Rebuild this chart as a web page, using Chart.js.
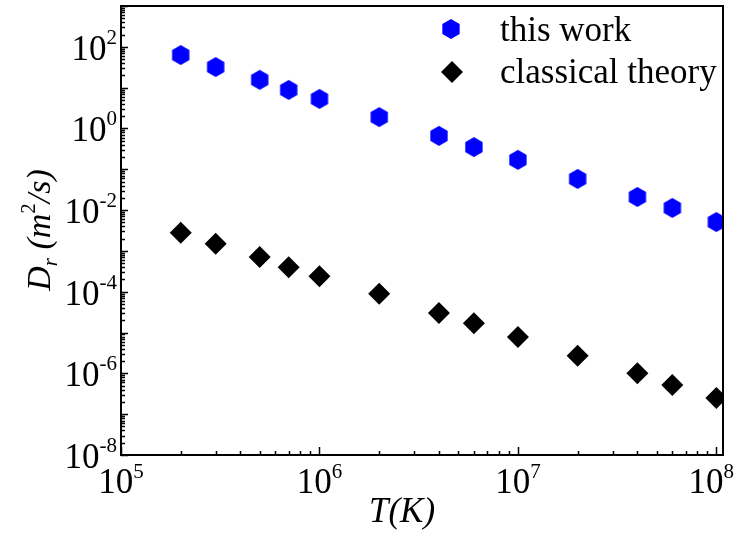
<!DOCTYPE html>
<html>
<head>
<meta charset="utf-8">
<script src="https://cdn.jsdelivr.net/npm/chart.js@4.4.1/dist/chart.umd.min.js"></script>
<style>
  body { margin: 0; background: #fff; }
  #caja { width: 739px; height: 533px; }
</style>
</head>
<body>
<div id="caja"><canvas id="grafica"></canvas></div>
<script>
// datos
var temperatura = [2e5, 3e5, 5e5, 7e5, 1e6, 2e6, 4e6, 6e6, 1e7, 2e7, 4e7, 6e7, 1e8];
var dEsteTrabajo = [63, 32, 15.5, 8.8, 5.3, 1.9, 0.66, 0.35, 0.17, 0.058, 0.021, 0.0113, 0.0051];
var dClasica = [2.8e-3, 1.5e-3, 7.1e-4, 4.0e-4, 2.4e-4, 8.9e-5, 3.0e-5, 1.7e-5, 7.8e-6, 2.7e-6, 1.0e-6, 5.2e-7, 2.5e-7];

var etiquetas = ['this work', 'classical theory'];
var expX = [5, 6, 7, 8];            // etiquetas 10^n eje x
var expY = [-8, -6, -4, -2, 0, 2];  // etiquetas 10^n eje y
var decadasX = [5, 6, 7];
var decadasY = [-8, -7, -6, -5, -4, -3, -2, -1, 0, 1, 2];

var fuente = '"Liberation Serif", "Times New Roman", serif';

function ticksLog(decadas, ultima) {
  var t = [];
  decadas.forEach(function (d) {
    for (var m = 1; m <= 9; m++) t.push({ value: Number(m + 'e' + d), major: m == 1 });
  });
  t.push({ value: Number('1e' + ultima), major: true });
  return t;
}

function hexagono(r, color) {
  var c = document.createElement('canvas');
  c.width = Math.ceil(2 * r + 2);
  c.height = c.width;
  var g = c.getContext('2d');
  var m = c.width / 2;
  g.beginPath();
  for (var k = 0; k < 6; k++) {
    var a = Math.PI / 180 * (60 * k - 90);
    if (k == 0) g.moveTo(m + r * Math.cos(a), m + r * Math.sin(a));
    else g.lineTo(m + r * Math.cos(a), m + r * Math.sin(a));
  }
  g.closePath();
  g.fillStyle = color;
  g.fill();
  return c;
}

var hexAzul = hexagono(10, '#0000ff');

function puntos(ys) {
  return temperatura.map(function (t, i) { return { x: t, y: ys[i] }; });
}

// 10 con exponente; alinea: 'center' o 'right'
function escribePotencia(ctx, n, x, yBase, ySup, alinea) {
  ctx.font = '35px ' + fuente;
  var wBase = ctx.measureText('10').width;
  ctx.font = '21px ' + fuente;
  var wSup = ctx.measureText(String(n)).width;
  var x0 = alinea == 'right' ? x - wBase - wSup : x - (wBase + wSup) / 2;
  ctx.textAlign = 'left';
  ctx.font = '35px ' + fuente;
  ctx.fillText('10', x0, yBase);
  ctx.font = '21px ' + fuente;
  ctx.fillText(String(n), x0 + wBase, ySup);
}

// marco, ticks hacia adentro, etiquetas, titulos y leyenda
var extras = {
  id: 'extras',
  afterDraw: function (chart) {
    var ctx = chart.ctx;
    var a = chart.chartArea;
    var sx = chart.scales.x, sy = chart.scales.y;
    ctx.save();
    ctx.strokeStyle = '#000';
    ctx.lineWidth = 2;
    ctx.strokeRect(a.left, a.top, a.right - a.left, a.bottom - a.top);

    ctx.beginPath();
    sx.ticks.forEach(function (t) {
      var px = Math.round(sx.getPixelForValue(t.value)) + 0.5;
      var largo = t.major ? 8 : 4;
      ctx.moveTo(px, a.bottom);
      ctx.lineTo(px, a.bottom - largo);
    });
    sy.ticks.forEach(function (t) {
      var py = Math.round(sy.getPixelForValue(t.value)) + 0.5;
      var largo = t.major ? 7 : 4;
      ctx.moveTo(a.left, py);
      ctx.lineTo(a.left + largo, py);
    });
    ctx.lineWidth = 1.5;
    ctx.stroke();

    ctx.fillStyle = '#000';
    ctx.textBaseline = 'alphabetic';

    expX.forEach(function (n) {
      var px = sx.getPixelForValue(Number('1e' + n));
      if (n == expX[expX.length - 1]) px -= 5;
      escribePotencia(ctx, n, px, a.bottom + 38, a.bottom + 23, 'center');
    });
    expY.forEach(function (n) {
      var py = sy.getPixelForValue(Number('1e' + n));
      escribePotencia(ctx, n, a.left - 4, py + 13, py - 3, 'right');
    });

    // titulo eje x
    ctx.font = 'italic 35px ' + fuente;
    ctx.textAlign = 'center';
    ctx.fillText('T(K)', 402, 522);

    // titulo eje y con subindice y superindice
    ctx.save();
    ctx.translate(50, 230);
    ctx.rotate(-Math.PI / 2);
    var partes = [
      { s: 'D', f: 'italic 34px ', dy: 0 },
      { s: 'r', f: 'italic 21px ', dy: 7 },
      { s: ' (m', f: 'italic 34px ', dy: 0 },
      { s: '2', f: '21px ', dy: -15 },
      { s: '/s)', f: 'italic 34px ', dy: 0 }
    ];
    var total = 0;
    partes.forEach(function (p) { ctx.font = p.f + fuente; p.w = ctx.measureText(p.s).width; total += p.w; });
    var x0 = -total / 2;
    ctx.textAlign = 'left';
    partes.forEach(function (p) {
      ctx.font = p.f + fuente;
      ctx.fillText(p.s, x0, p.dy);
      x0 += p.w;
    });
    ctx.restore();

    // leyenda
    ctx.drawImage(hexAzul, 451 - hexAzul.width / 2, 29 - hexAzul.height / 2);
    ctx.beginPath();
    ctx.moveTo(441, 72);
    ctx.lineTo(452, 61);
    ctx.lineTo(463, 72);
    ctx.lineTo(452, 83);
    ctx.closePath();
    ctx.fillStyle = '#000';
    ctx.fill();
    ctx.font = '35px ' + fuente;
    ctx.textAlign = 'left';
    ctx.fillText(etiquetas[0], 500, 41);
    ctx.fillText(etiquetas[1], 500, 83);
    ctx.restore();
  }
};

new Chart(document.getElementById('grafica'), {
  type: 'scatter',
  data: {
    datasets: [
      {
        label: etiquetas[0],
        data: puntos(dEsteTrabajo),
        pointStyle: hexAzul,
        pointRadius: 10,
        backgroundColor: '#0000ff',
        borderWidth: 0
      },
      {
        label: etiquetas[1],
        data: puntos(dClasica),
        pointStyle: 'rectRot',
        pointRadius: 11,
        backgroundColor: '#000',
        borderColor: '#000',
        borderWidth: 0
      }
    ]
  },
  options: {
    responsive: true,
    maintainAspectRatio: false,
    animation: false,
    layout: { autoPadding: false, padding: { left: 0, top: 6, right: 16, bottom: 0 } },
    plugins: { legend: { display: false }, tooltip: { enabled: false } },
    scales: {
      x: {
        type: 'logarithmic',
        min: 1e5,
        max: 1.08e8,
        bounds: 'data',
        grid: { display: false, drawTicks: false },
        border: { display: false },
        ticks: { display: false },
        afterBuildTicks: function (s) { s.ticks = ticksLog(decadasX, 8); },
        afterFit: function (s) { s.height = 78; s.paddingLeft = 0; s.paddingRight = 0; }
      },
      y: {
        type: 'logarithmic',
        min: 1e-8,
        max: 1e3,
        bounds: 'data',
        grid: { display: false, drawTicks: false },
        border: { display: false },
        ticks: { display: false },
        afterBuildTicks: function (s) { s.ticks = ticksLog(decadasY, 3); },
        afterFit: function (s) { s.width = 121; s.paddingTop = 0; s.paddingBottom = 0; }
      }
    }
  },
  plugins: [extras]
});
</script>
</body>
</html>
